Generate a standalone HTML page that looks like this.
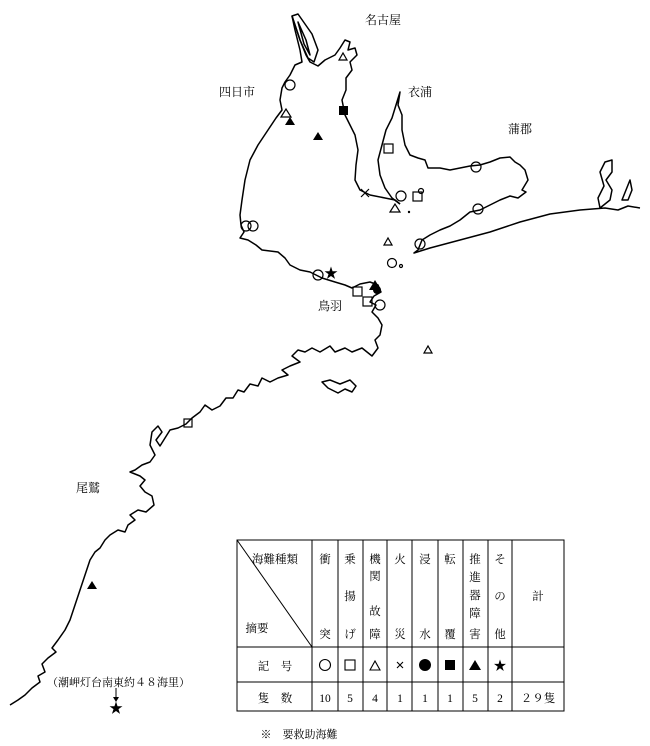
<!DOCTYPE html>
<html><head><meta charset="utf-8"><style>
html,body{margin:0;padding:0;background:#fff;}
svg{display:block;}
text{font-family:"Liberation Serif","Noto Serif CJK SC","Noto Sans CJK JP",serif;fill:#000;}
</style></head><body>
<svg width="650" height="746" viewBox="0 0 650 746" xmlns="http://www.w3.org/2000/svg">
<g fill="none" stroke="#000" stroke-width="1.5" stroke-linejoin="round">
<path d="M292,16 L300,40 L306,55 L310,62 L318,66 L325,60 L335,55 L340,48 L345,40 L350,42 L348,50 L355,48 L357,55 L350,62 L352,70 L346,78 L346,90 L342,100 L345,115 L350,125 L355,135 L358,150 L356,165 L355,180 L360,190 L370,195 L385,198 L395,200 L400,204"/>
<path d="M292,16 L298,14 L312,34 L318,50 L314,62 L308,58 L300,40 Z"/>
<path d="M298,22 L306,40 L310,55 L304,44 Z"/>
<path d="M292,16 L295,30 L300,50 L302,62 L295,65 L290,75 L285,82 L282,88 L280,100 L282,110 L276,118 L268,130 L258,145 L250,160 L245,180 L242,200 L240,215 L241,225 L244,232 L240,238 L248,240 L256,245 L262,250 L278,252 L285,258 L290,265 L300,270 L310,272 L322,278 L335,282 L345,285 L352,288 L360,284 L370,282 L378,285 L381,292 L374,296 L370,302 L376,305 L372,312 L378,318 L382,325 L380,335 L375,340 L378,348 L372,356 L362,348 L352,352 L345,348 L335,352 L330,346 L320,352 L312,348 L305,352 L298,350 L292,356 L300,362 L290,366 L282,370 L288,375 L278,378 L270,382 L262,378 L258,386 L250,384 L244,392 L238,390 L233,398 L226,398 L220,406 L212,410 L205,405 L200,412 L192,418 L186,424 L178,428 L170,430 L165,438 L160,446 L156,440 L162,432 L158,426 L152,432 L150,445 L155,455 L150,462 L142,465 L135,470 L130,472 L140,476 L145,480 L140,486 L145,492 L152,496 L154,505 L146,512 L138,510 L130,515 L135,520 L128,525 L125,532 L118,530 L110,535 L105,540 L100,548 L95,552 L90,560 L85,575 L80,590 L75,605 L70,620 L65,630 L58,640 L52,648 L56,652 L48,658 L42,664 L45,672 L38,676 L40,682 L32,688 L25,695 L18,700 L10,705"/>
<path d="M322,382 L330,380 L340,384 L350,380 L356,386 L352,392 L345,389 L338,393 L328,388 Z"/>
<path d="M400,204 L392,198 L385,188 L380,175 L378,160 L382,145 L386,130 L392,118 L396,105 L400,92 L398,105 L402,115 L402,130 L405,145 L410,155 L418,158 L425,160 L428,168 L440,168 L450,170 L460,168 L470,166 L480,165 L490,162 L500,158 L510,157 L515,162 L520,165 L525,170 L528,180 L522,190 L526,192 L518,198 L510,196 L500,200 L490,205 L480,210 L470,212 L460,220 L450,226 L440,230 L430,235 L422,240 L418,250 L414,253 L430,248 L460,240 L490,232 L520,222 L550,214 L580,210 L605,208 L618,210 L628,206 L640,208"/>
<path d="M600,208 L598,198 L604,186 L600,172 L605,162 L612,160 L612,172 L606,180 L612,190 L610,200 Z"/>
<path d="M622,200 L626,190 L630,180 L632,190 L628,200 Z"/>
</g>
<g stroke="#000" stroke-width="1.2" fill="none">
<circle cx="290" cy="85" r="5"/>
<polygon points="281,117 286,109 291,117"/>
<polygon points="339,60 343,53 347,60"/>
<rect x="384" y="144" width="9" height="9"/>
<circle cx="476" cy="167" r="5"/>
<path d="M361,189 L369,197 M369,189 L361,197"/>
<circle cx="401" cy="196" r="5"/>
<rect x="413" y="192" width="9" height="9"/>
<circle cx="421" cy="191" r="2.5"/>
<polygon points="390,212 395,204 400,212"/>
<circle cx="478" cy="209" r="5"/>
<circle cx="420" cy="244" r="5"/>
<polygon points="384,245 388,238 392,245"/>
<circle cx="392" cy="263" r="4.5"/>
<circle cx="401" cy="266" r="1.5"/>
<circle cx="246" cy="226" r="5"/><circle cx="253" cy="226" r="5"/>
<circle cx="318" cy="275" r="5"/>
<rect x="353" y="287" width="9" height="9"/>
<rect x="363" y="297" width="9" height="9"/>
<circle cx="380" cy="305" r="5"/>
<polygon points="424,353 428,346 432,353"/>
<rect x="184" y="419" width="8" height="8"/>
</g>
<g fill="#000">
<rect x="339" y="106" width="9" height="9"/>
<polygon points="285,125 290,117 295,125"/>
<polygon points="313,140 318,132 323,140"/>
<polygon points="369,290 375,280 381,290"/>
<circle cx="377" cy="290" r="4"/>
<polygon points="87,589 92,581 97,589"/>
<circle cx="409" cy="212" r="1.2"/>
<text x="324" y="278" font-size="14">★</text>
<text x="109" y="713" font-size="14">★</text>
</g>
<path d="M116,688 L116,700" stroke="#000" stroke-width="1"/>
<polygon points="113,697 116,702 119,697" fill="#000"/>
<g font-size="12">
<text x="365" y="24">名古屋</text>
<text x="219" y="96">四日市</text>
<text x="408" y="96">衣浦</text>
<text x="508" y="133">蒲郡</text>
<text x="318" y="310">鳥羽</text>
<text x="76" y="492">尾鷲</text>
<text x="47" y="686" font-size="11">（潮岬灯台南東約４８海里）</text>
</g>
<g stroke="#000" stroke-width="1" fill="none">
<rect x="237" y="540" width="327" height="171"/>
<line x1="237" y1="647" x2="564" y2="647"/>
<line x1="237" y1="682" x2="564" y2="682"/>
<line x1="237" y1="540" x2="312" y2="647"/>
<line x1="312" y1="540" x2="312" y2="711"/>
<line x1="338" y1="540" x2="338" y2="711"/>
<line x1="363" y1="540" x2="363" y2="711"/>
<line x1="387" y1="540" x2="387" y2="711"/>
<line x1="412" y1="540" x2="412" y2="711"/>
<line x1="438" y1="540" x2="438" y2="711"/>
<line x1="463" y1="540" x2="463" y2="711"/>
<line x1="488" y1="540" x2="488" y2="711"/>
<line x1="512" y1="540" x2="512" y2="711"/>
</g>
<g font-size="11.5" text-anchor="middle">
<text x="275" y="563">海難種類</text>
<text x="257" y="632">摘要</text>
<text x="325" y="563">衝</text><text x="325" y="638">突</text>
<text x="350" y="563">乗</text><text x="350" y="600">揚</text><text x="350" y="638">げ</text>
<text x="375" y="563">機</text><text x="375" y="580">関</text><text x="375" y="615">故</text><text x="375" y="638">障</text>
<text x="400" y="563">火</text><text x="400" y="638">災</text>
<text x="425" y="563">浸</text><text x="425" y="638">水</text>
<text x="450" y="563">転</text><text x="450" y="638">覆</text>
<text x="475" y="563">推</text><text x="475" y="581">進</text><text x="475" y="599">器</text><text x="475" y="617">障</text><text x="475" y="638">害</text>
<text x="500" y="563">そ</text><text x="500" y="600">の</text><text x="500" y="638">他</text>
<text x="538" y="600">計</text>
<text x="275" y="670">記　号</text>
<text x="275" y="702">隻　数</text>
<text x="325" y="702">10</text><text x="350" y="702">5</text><text x="375" y="702">4</text><text x="400" y="702">1</text><text x="425" y="702">1</text><text x="450" y="702">1</text><text x="475" y="702">5</text><text x="500" y="702">2</text>
<text x="538" y="702">２９隻</text>
<text x="299" y="738" font-size="11">※　要救助海難</text>
</g>
<g stroke="#000" stroke-width="1.1" fill="none">
<circle cx="325" cy="665" r="5.5"/>
<rect x="345" y="660" width="10" height="10"/>
<polygon points="370,670 375,661 380,670"/>
<path d="M397,662 L403,668 M403,662 L397,668"/>
</g>
<g fill="#000">
<circle cx="425" cy="665" r="6"/>
<rect x="445" y="660" width="10" height="10"/>
<polygon points="469,670 475,660 481,670"/>
<text x="500" y="670" font-size="13" text-anchor="middle">★</text>
</g>
</svg>
</body></html>
